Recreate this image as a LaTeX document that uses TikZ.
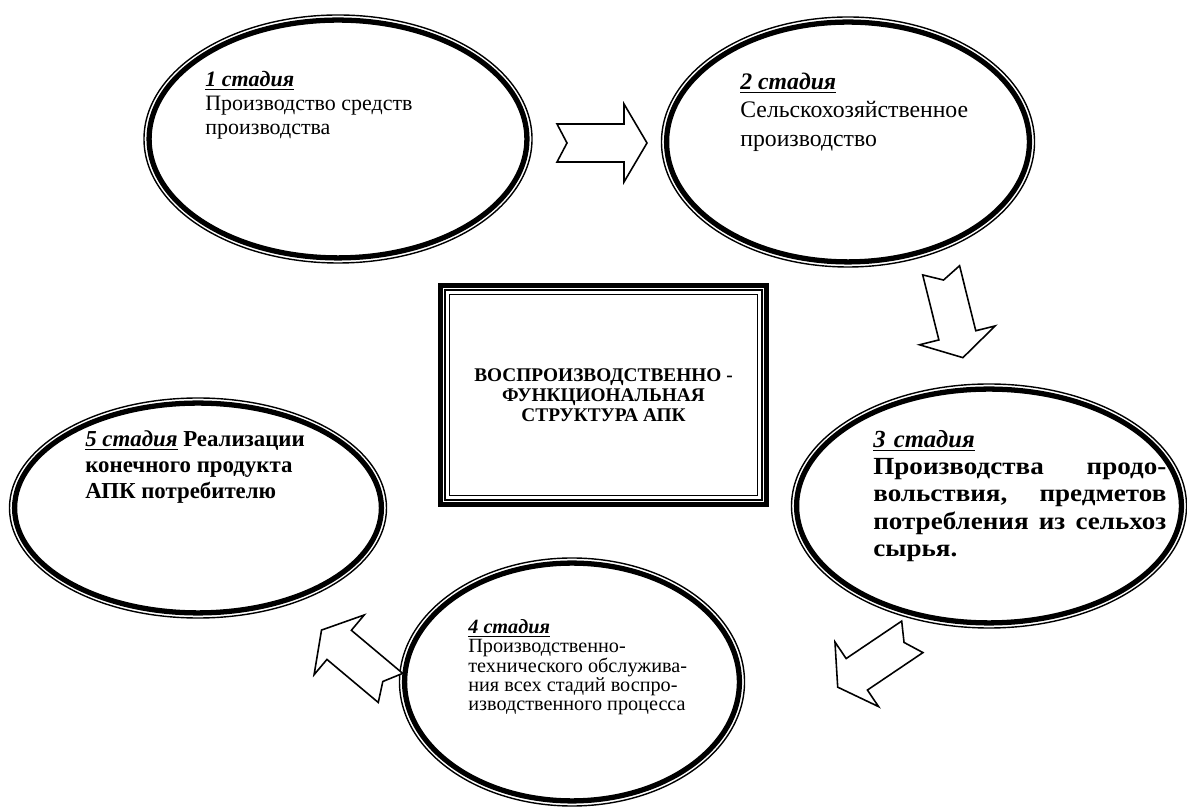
\documentclass[tikz,border=0pt]{standalone}
\usepackage{fontspec}
\setmainfont{Liberation Serif}
\newfontfamily\wideserif[FakeStretch=1.1]{Liberation Serif}
\usetikzlibrary{shapes.geometric,calc}

\newcommand{\stagehead}[1]{\underline{\textbf{\textit{#1}}}}

\tikzset{
	pics/notcharrow/.style={code={
		\draw[line width=0.9pt, fill=white] (-0.9,0.38) -- (0.44,0.38) -- (0.44,0.78) -- (0.9,0) -- (0.44,-0.78) -- (0.44,-0.38) -- (-0.9,-0.38) -- (-0.7,0) -- cycle;
	}}
}

\begin{document}
\begin{tikzpicture}[
	stage/.style={ellipse, draw, line width=0.8pt, path picture={
		\draw[line width=3pt] let \p1=(path picture bounding box.north east), \p2=(path picture bounding box.center) in (\p2) ellipse [x radius=\x1-\x2-2.9pt, y radius=\y1-\y2-2.9pt];}},
	stagetext/.style={anchor=north west, inner sep=0pt, align=left},
	frame/.style={draw, line width=2.3pt, align=center, font=\bfseries\fontsize{11}{11.5}\selectfont, minimum width=6.52cm, minimum height=4.38cm}]
	
	\useasboundingbox (0,0) rectangle (23.74,16.2);
	
	\node[stage, minimum width=7.76cm, minimum height=4.96cm] (st1) at (6.76,13.42) {};
	\node[stage, minimum width=7.46cm, minimum height=5cm] (st2) at (16.96,13.36) {};
	\node[stage, minimum width=7.9cm, minimum height=4.88cm] (st3) at (19.78,6.08) {};
	\node[stage, minimum width=6.9cm, minimum height=4.96cm] (st4) at (11.44,2.56) {};
	\node[stage, minimum width=7.54cm, minimum height=4.4cm] (st5) at (3.96,6.04) {};
	
	\node[stagetext, font=\fontsize{12.5}{13.5}\selectfont] (st1text) at (4.1,14.78) {\stagehead{1 стадия}\\Производство средств\\производства};
	\node[stagetext, font=\fontsize{13.5}{16}\selectfont] (st2text) at (14.8,14.74) {\stagehead{2 стадия}\\Сельскохозяйственное\\производство};
	\node[stagetext, text width=5.86cm, font=\fontsize{14}{15.5}\selectfont] (st3text) at (17.46,7.6) {\stagehead{3 стадия}\\\wideserif\bfseries Производства\hfill продо-\\вольствия,\hfill предметов\\потребления\hfill из\hfill сельхоз\\сырья.};
	\node[stagetext, font=\fontsize{11.5}{11}\selectfont] (st4text) at (9.36,3.82) {\stagehead{4 стадия}\\Производственно-\\технического обслужива-\\ния всех стадий воспро-\\изводственного процесса};
	\node[stagetext, font=\bfseries\fontsize{13}{15}\selectfont] (st5text) at (1.7,7.6) {\stagehead{5 стадия} Реализации\\конечного продукта\\АПК потребителю};
	
	\node[frame] (apk) at (12.07,8.3) {ВОСПРОИЗВОДСТВЕННО -\\ФУНКЦИОНАЛЬНАЯ\\СТРУКТУРА АПК};
	\draw[line width=1pt] ([shift={(0.13,0.13)}]apk.south west) rectangle ([shift={(-0.13,-0.13)}]apk.north east);
	\draw[line width=1pt] ([shift={(0.22,0.22)}]apk.south west) rectangle ([shift={(-0.22,-0.22)}]apk.north east);
	
	\pic at (12.04,13.34) {notcharrow};
	\pic[rotate=-76] at (19.04,9.92) {notcharrow};
	\pic[rotate=214] at (17.5,2.96) {notcharrow};
	\pic[rotate=140] at (7.12,3.02) {notcharrow};
\end{tikzpicture}
\end{document}
